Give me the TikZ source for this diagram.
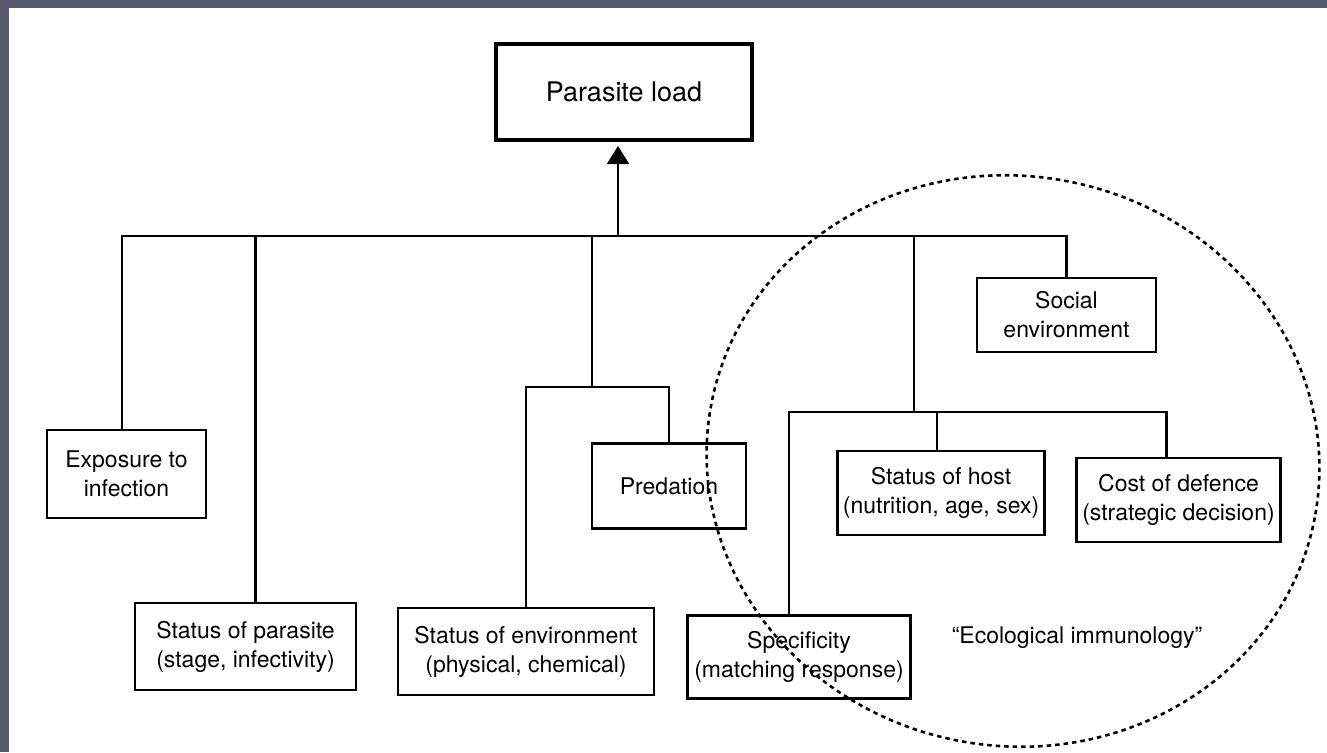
\documentclass[tikz,border=0pt]{standalone}
\usepackage{fontspec}
\setmainfont{TeX Gyre Heros}
\usetikzlibrary{arrows.meta}

\definecolor{slide}{RGB}{88,89,108}

\tikzset{%
  % Specifications for style of nodes:
         base/.style = {rectangle, draw = black, line width=2.3pt, inner sep=2pt, align=center, font=\fontsize{23}{29}\selectfont},
         loadbox/.style = {base, line width=4pt, font=\fontsize{27}{32}\selectfont},
         immuno/.style = {draw = black, line width=2.6pt, dash pattern=on 4.5pt off 4pt},
}

\begin{document}
\begin{tikzpicture}[x=1pt, y=-1pt, line width=2.1pt]
    % Page
    \useasboundingbox (0,0) rectangle (1327,752);
    \fill[slide] (0,0) rectangle (1327,752);
    \fill[white] (9,8) rectangle (1327,752);

    % Draw nodes
    \node (load)      [loadbox, minimum width=256pt, minimum height=96pt] at (624,92)     {Parasite load};
    \node (exposure)  [base, minimum width=159pt, minimum height=88pt]    at (126.5,474)  {Exposure to\\infection};
    \node (parasite)  [base, minimum width=221pt, minimum height=87pt]    at (245.5,646.5) {Status of parasite\\(stage, infectivity)};
    \node (environ)   [base, minimum width=256pt, minimum height=87pt]    at (526,651.5)  {Status of environment\\(physical, chemical)};
    \node (predation) [base, minimum width=154pt, minimum height=85pt]    at (669,486)    {Predation};
    \node (specific)  [base, minimum width=223pt, minimum height=83pt]    at (799,657)    {Specificity\\(matching response)};
    \node (host)      [base, minimum width=207pt, minimum height=84pt]    at (941,493)    {Status of host\\(nutrition, age, sex)};
    \node (cost)      [base, minimum width=204pt, minimum height=84pt]    at (1178.5,500) {Cost of defence\\(strategic decision)};
    \node (social)    [base, minimum width=179pt, minimum height=74pt]    at (1066.5,315) {Social\\environment};
    \node (ecolabel)  [font=\fontsize{23}{29}\selectfont]                 at (1077,638)   {“Ecological immunology”};

    \coordinate (bus)      at (618,236);
    \coordinate (envjoin)  at (592,387);
    \coordinate (hostjoin) at (914,412);

    % Draw arrows
    \draw[-{Triangle[length=18pt,width=22pt]}, shorten >=4pt] (bus) -- (bus |- load.south);
    \draw ([xshift=-4.5pt]exposure.north) |- (bus) -| (social.north);
    \draw ([xshift=10pt]parasite.north) |- (bus);

    \draw (envjoin) |- (bus);
    \draw (environ.north) |- (envjoin) -| (predation.north);

    \draw (hostjoin) |- (bus);
    \draw ([xshift=-10pt]specific.north) |- (hostjoin) -| ([xshift=-12pt]cost.north);
    \draw ([xshift=-4pt]host.north) |- (hostjoin);

    % Ecological immunology
    \draw[immuno, rotate around={-10:(1013,461)}] (1013,461) ellipse [x radius=307pt, y radius=285pt];

\end{tikzpicture}
\end{document}
